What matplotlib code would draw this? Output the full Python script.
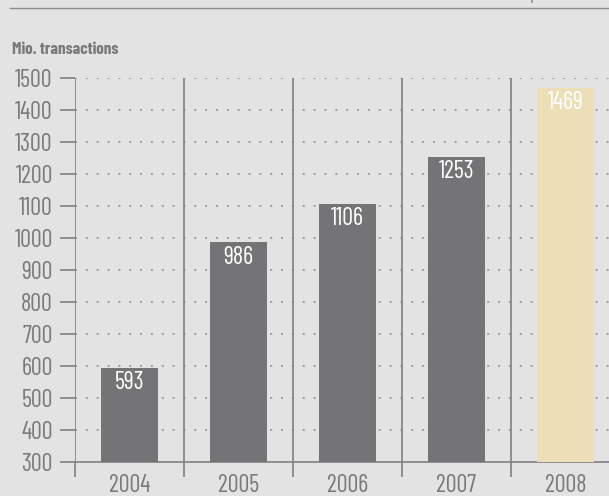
import matplotlib
matplotlib.use("Agg")
import matplotlib.pyplot as plt
from matplotlib.lines import Line2D

years = ["2004", "2005", "2006", "2007", "2008"]
transactions = [593, 986, 1106, 1253, 1469]
bar_colors = ["#747476", "#747476", "#747476", "#747476", "#ecdfb8"]
y_ticks = list(range(300, 1501, 100))

plt.rcParams["font.family"] = ["Barlow Condensed", "DejaVu Sans"]

bg = "#e3e3e3"
line_col = "#808080"
text_col = "#7a7a7a"

fig = plt.figure(figsize=(6.09, 4.96), dpi=100, facecolor=bg)
ax = fig.add_axes([75 / 609, 1 - 462 / 496, 1 - 75 / 609, (462 - 78) / 496])
ax.set_facecolor(bg)

x = list(range(len(years)))

# --- dotted horizontal grid ---
for v in y_ticks[1:]:
    ax.axhline(v, color="#8a8a8a", lw=1.1, linestyle=(0, (1.3, 5.8)), zorder=1)

# --- vertical separators between years ---
bounds = [i - 0.5 for i in range(len(years))]
ax.vlines(bounds, 300, 1500, color=line_col, lw=1.2, zorder=2)

# --- bars ---
ax.bar(x, [v - 300 for v in transactions], bottom=300, width=0.523,
       color=bar_colors, zorder=3)
for i, v in enumerate(transactions):
    ax.annotate(str(v), (i, v), xytext=(0, -10.5), textcoords="offset points",
                ha="center", va="center", color="white", fontsize=17.5, zorder=4)

ax.set_xlim(-0.5, -0.5 + 534 / 109)
ax.set_ylim(300, 1500)

for s in ["top", "right", "left"]:
    ax.spines[s].set_visible(False)
ax.spines["bottom"].set_color(line_col)
ax.spines["bottom"].set_linewidth(1.2)

ax.set_yticks(y_ticks)
ax.tick_params(axis="y", direction="out", length=11, width=1.2, color=line_col,
               labelsize=17.5, labelcolor=text_col, pad=5)
ax.set_xticks(x)
ax.set_xticklabels(years)
ax.set_xticks(bounds, minor=True)
ax.tick_params(axis="x", which="major", length=0, labelsize=17.5,
               labelcolor=text_col, pad=9)
ax.tick_params(axis="x", which="minor", direction="out", length=11, width=1.2,
               color=line_col)

fig.text(12 / 609, 1 - 49 / 496, "Mio. transactions", fontsize=12.3,
         fontweight="bold", color=text_col, va="center", ha="left")

# thin rule at the top
fig.add_artist(Line2D([10 / 609, 1], [1 - 7.5 / 496, 1 - 7.5 / 496],
                      transform=fig.transFigure, color="#8c8c8c", lw=1))
fig.add_artist(Line2D([532 / 609, 532 / 609], [1, 1 - 2 / 496],
                      transform=fig.transFigure, color="#8c8c8c", lw=1.2))

fig.savefig("out.png", dpi=100, facecolor=bg)
